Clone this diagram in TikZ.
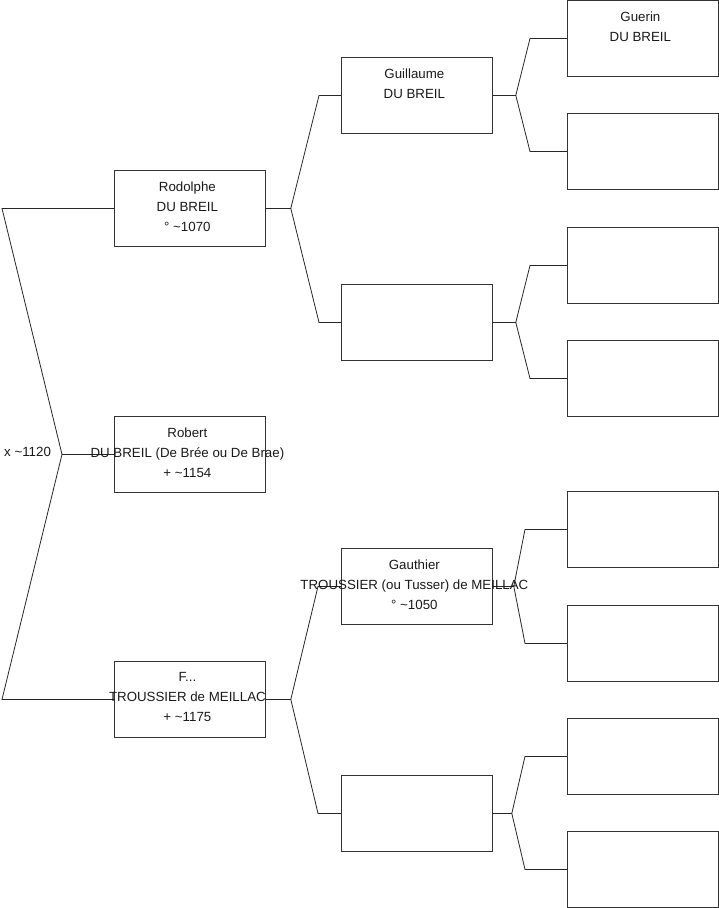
\documentclass[tikz,border=0pt]{standalone}
\usepackage{fontspec}
\setmainfont{Liberation Sans}
\usetikzlibrary{calc}
\begin{document}
\begin{tikzpicture}[x=1pt,y=-1pt,
 box/.style={draw=black!80, line width=0.8pt, minimum width=151pt, minimum height=76pt, inner sep=0pt, anchor=north west},
 txt/.style={align=center, font=\fontsize{13.3}{20}\selectfont, text=black!90, inner sep=0pt},
 link/.style={draw=black!85, line width=0.8pt}]
\useasboundingbox (0,0) rectangle (719,908);
% level 1
\node[box] (rod) at (114,170) {};
\node[box] (rob) at (114,416) {};
\node[box] (fff) at (114,661) {};
% level 2
\node[box] (gui) at (341,57) {};
\node[box] (ea) at (341,284) {};
\node[box] (gau) at (341,548) {};
\node[box] (eb) at (341,775) {};
% level 3
\node[box] (g1) at (567,0) {};
\node[box] (g2) at (567,113) {};
\node[box] (g3) at (567,227) {};
\node[box] (g4) at (567,340) {};
\node[box] (g5) at (567,491) {};
\node[box] (g6) at (567,605) {};
\node[box] (g7) at (567,718) {};
\node[box] (g8) at (567,831) {};
% root connector
\draw[link] (rob.west) -- ++(-52,0) coordinate (r0) -- ($(rod.west)+(-112,0)$) -- (rod.west);
\draw[link] (r0) -- ($(fff.west)+(-112,0)$) -- (fff.west);
\node[txt, anchor=west] (marr) at (4,452) {x \textasciitilde1120};
% level 1 -> 2
\draw[link] (rod.east) -- ++(25,0) coordinate (a1) -- ($(gui.west)+(-22,0)$) -- (gui.west);
\draw[link] (a1) -- ($(ea.west)+(-22,0)$) -- (ea.west);
\draw[link] (fff.east) -- ++(25,0) coordinate (a2) -- ($(gau.west)+(-23,0)$) -- (gau.west);
\draw[link] (a2) -- ($(eb.west)+(-23,0)$) -- (eb.west);
% level 2 -> 3
\draw[link] (gui.east) -- ++(23,0) coordinate (b1) -- ($(g1.west)+(-37,0)$) -- (g1.west);
\draw[link] (b1) -- ($(g2.west)+(-37,0)$) -- (g2.west);
\draw[link] (ea.east) -- ++(23,0) coordinate (b2) -- ($(g3.west)+(-37,0)$) -- (g3.west);
\draw[link] (b2) -- ($(g4.west)+(-37,0)$) -- (g4.west);
\draw[link] (gau.east) -- ++(21,0) coordinate (b3) -- ($(g5.west)+(-42,0)$) -- (g5.west);
\draw[link] (b3) -- ($(g6.west)+(-42,0)$) -- (g6.west);
\draw[link] (eb.east) -- ++(19,0) coordinate (b4) -- ($(g7.west)+(-42,0)$) -- (g7.west);
\draw[link] (b4) -- ($(g8.west)+(-42,0)$) -- (g8.west);
% texts
\node[txt] (rodT) at ($(rod.center)+(-2.5,-2)$) {Rodolphe\\DU BREIL\\° \textasciitilde1070};
\node[txt] (robT) at ($(rob.center)+(-2.5,-2)$) {Robert\\DU BREIL (De Brée ou De Brae)\\+ \textasciitilde1154};
\node[txt] (fffT) at ($(fff.center)+(-2.5,-2)$) {F...\\TROUSSIER de MEILLAC\\+ \textasciitilde1175};
\node[txt] (guiT) at ($(gui.center)+(-2.5,-2)$) {Guillaume\\DU BREIL\\\mbox{}};
\node[txt] (gauT) at ($(gau.center)+(-2.5,-2)$) {Gauthier\\TROUSSIER (ou Tusser) de MEILLAC\\° \textasciitilde1050};
\node[txt] (g1T) at ($(g1.center)+(-2.5,-2)$) {Guerin\\DU BREIL\\\mbox{}};
\end{tikzpicture}
\end{document}
